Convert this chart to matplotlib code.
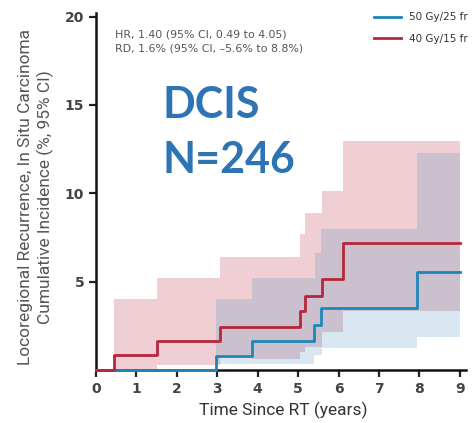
import numpy as np
import matplotlib.pyplot as plt

# Cumulative incidence step curves (years, %)
red_t = [0, 0.45, 1.50, 3.07, 5.05, 5.17, 5.59, 6.12, 9.0]
red_y = [0, 0.85, 1.64, 2.45, 3.34, 4.20, 5.13, 7.20, 7.20]
blue_t = [0, 2.97, 3.87, 5.40, 5.56, 7.94, 9.0]
blue_y = [0, 0.81, 1.64, 2.55, 3.49, 5.56, 5.56]

# 95% CI bands
red_ci_t = [0.45, 1.50, 3.07, 3.87, 5.05, 5.17, 5.59, 6.12, 9.0]
red_lo = [0.0, 0.30, 0.85, 0.60, 1.00, 1.30, 2.17, 3.34, 3.34]
red_hi = [4.02, 5.22, 6.40, 6.40, 7.68, 8.87, 10.15, 12.98, 12.98]
blue_ci_t = [2.97, 3.87, 5.40, 5.42, 5.56, 5.59, 7.95, 9.0]
blue_lo = [0.35, 0.35, 0.85, 0.85, 0.85, 1.23, 1.89, 1.89]
blue_hi = [4.00, 5.22, 5.22, 6.60, 8.00, 8.00, 12.30, 12.30]

RED = "#B8263C"
BLUE = "#1E86B8"

fig = plt.figure(figsize=(4.75, 4.23), dpi=100)
ax = fig.add_axes([96 / 475, 1 - 370 / 423, 370 / 475, 357 / 423])

ax.fill_between(red_ci_t, red_lo, red_hi, step="post", color=RED,
                alpha=0.22, lw=0)
ax.fill_between(blue_ci_t, blue_lo, blue_hi, step="post", color="#2B7FB8",
                alpha=0.18, lw=0)
ax.step(blue_t, blue_y, where="post", color=BLUE, lw=2.0, label="50 Gy/25 fr",
        clip_on=False, zorder=3)
ax.step(red_t, red_y, where="post", color=RED, lw=2.0, label="40 Gy/15 fr",
        clip_on=False, zorder=3)

ax.set_xlim(0, 9.15)
ax.set_ylim(0, 20.2)
ax.set_xticks(range(10))
ax.set_yticks([5, 10, 15, 20])
ax.tick_params(axis="both", direction="out", length=5, width=1.6,
               colors="#222", labelcolor="#444", labelsize=10)
for lab in ax.get_xticklabels() + ax.get_yticklabels():
    lab.set_fontweight("bold")
for s in ("top", "right"):
    ax.spines[s].set_visible(False)
for s in ("left", "bottom"):
    ax.spines[s].set_linewidth(1.8)
    ax.spines[s].set_color("#111")
    ax.spines[s].set_zorder(2)

ax.legend(loc="upper right", bbox_to_anchor=(1.03, 1.028), frameon=False,
          fontsize=7.5, handlelength=2.6, labelspacing=1.1,
          labelcolor="#333")

ax.text(0.47, 19.0, "HR, 1.40 (95% CI, 0.49 to 4.05)", fontsize=7.9,
        color="#555", va="center")
ax.text(0.47, 18.2, "RD, 1.6% (95% CI, \u20135.6% to 8.8%)", fontsize=7.9,
        color="#555", va="center")

fig.text(162 / 475, 1 - 105 / 423, "DCIS", fontsize=31, color="#2E74B5",
         fontweight="bold", family="Lato", va="center")
fig.text(162 / 475, 1 - 160 / 423, "N=246", fontsize=31, color="#2E74B5",
         fontweight="bold", family="Lato", va="center")

fig.text(36 / 475, 1 - 197 / 423,
         "Locoregional Recurrence, In Situ Carcinoma\n"
         "Cumulative Incidence (%, 95% CI)",
         rotation=90, ha="center", va="center", multialignment="center",
         fontsize=12.5, family="Roboto", color="#555", linespacing=1.25)
fig.text(283 / 475, 1 - 410 / 423, "Time Since RT (years)", ha="center",
         va="center", fontsize=12.5, family="Roboto", color="#333")

fig.savefig("out.png", dpi=100)
